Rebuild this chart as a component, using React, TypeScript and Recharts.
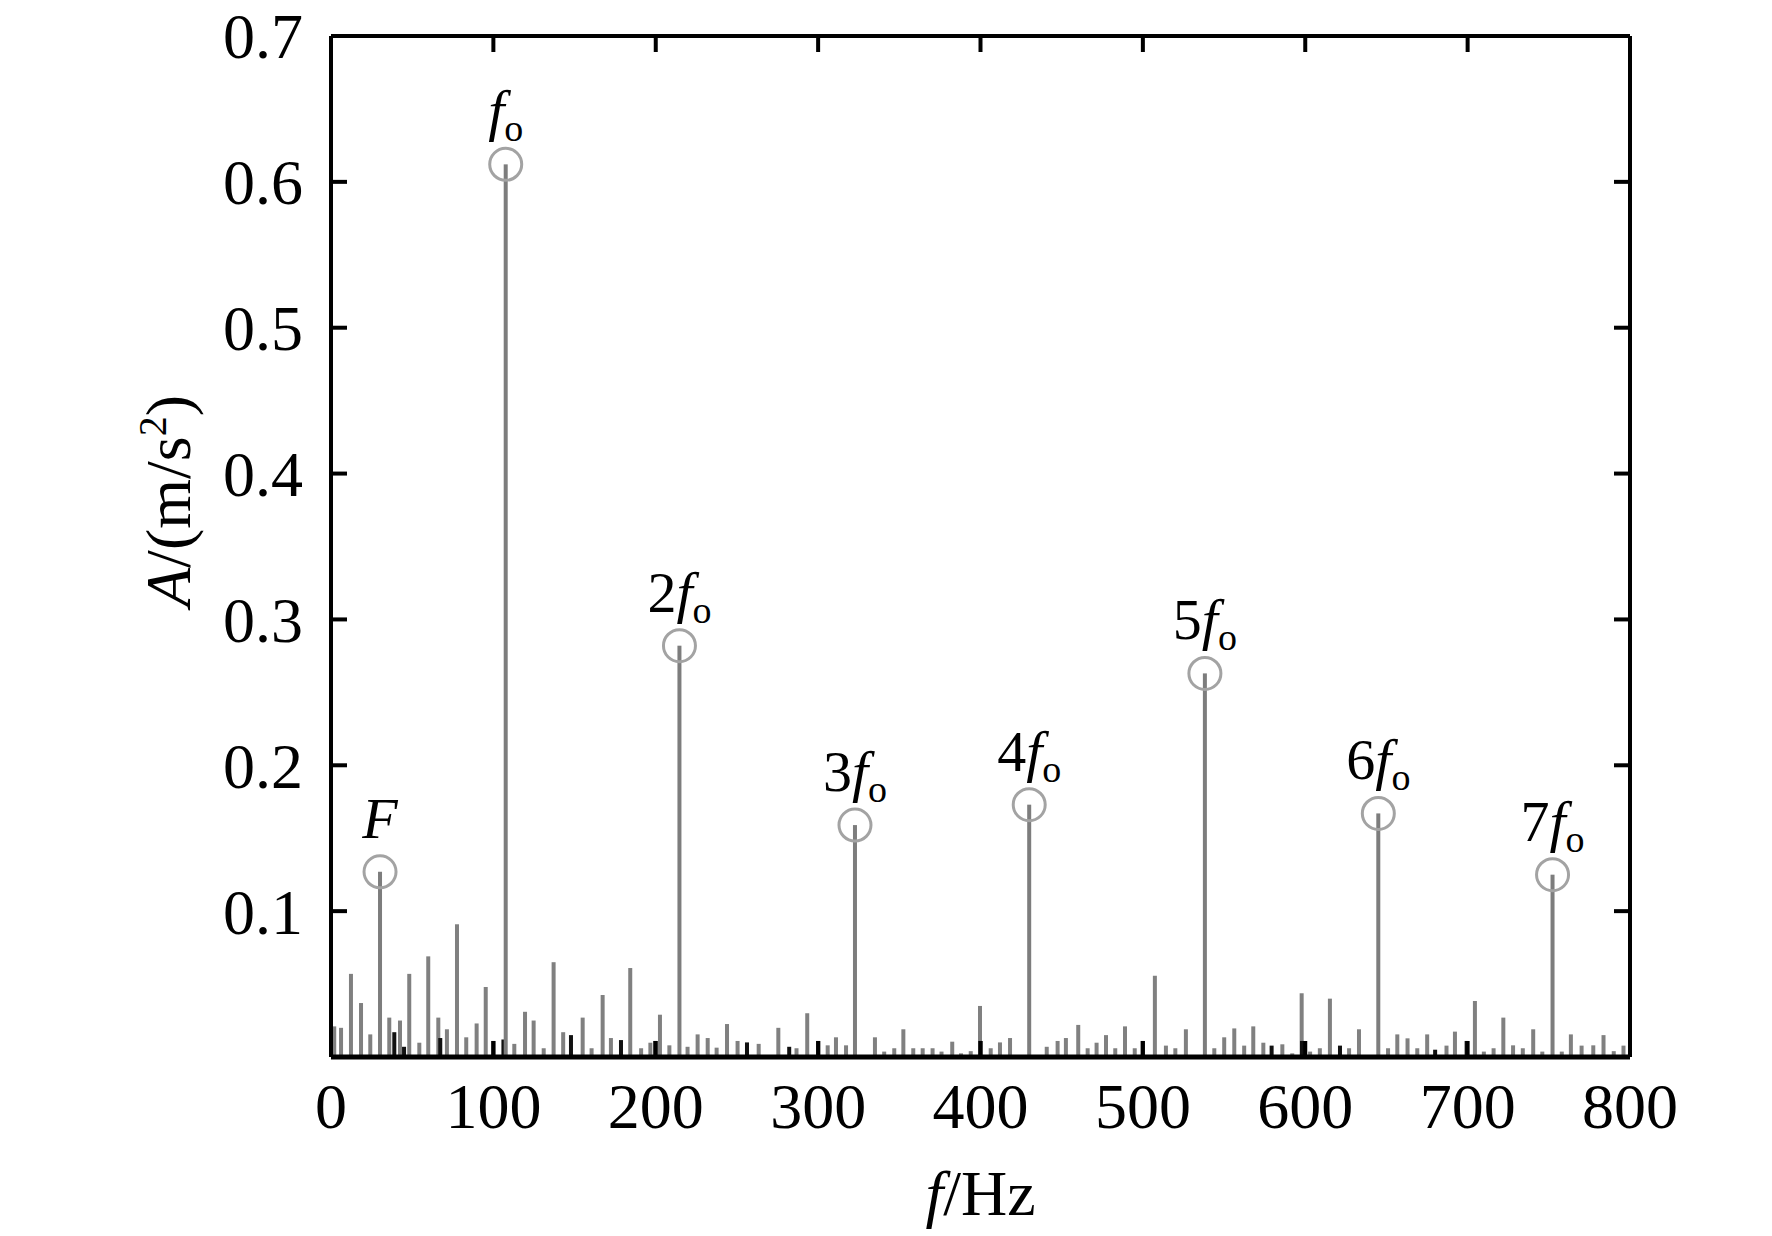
import React from "react";
import { ComposedChart, Bar, Scatter, XAxis, YAxis } from "recharts";

// spectrum: amplitude A (m/s^2) vs frequency f (Hz)
const harmonicFreq = [30.2, 107.6, 214.6, 322.7, 430, 538.2, 645, 752.3];
const harmonicAmp = [0.127, 0.612, 0.282, 0.159, 0.173, 0.263, 0.167, 0.125];
const harmonicLabels = ["F", "fo", "2fo", "3fo", "4fo", "5fo", "6fo", "7fo"];

const noiseFreq = [
    2, 6.2, 12.3, 18.5, 24.2, 35.9, 42.5, 48.2, 54.4, 59.9, 66.1, 71.4, 77.6, 83.3, 89.7, 95.3,
    112.9, 119.5, 124.8, 131, 137.1, 143, 155, 160.5, 167.3, 172.4, 184.3, 191, 196.7, 202.6, 208.4,
    219.6, 225.8, 232, 237.5, 243.9, 250.4, 263.4, 275.5, 286.7, 293.3, 305.9, 311, 317.2,
    335, 340.7, 346.9, 352.5, 358.6, 364.4, 370.5, 376, 382.6, 388, 394, 399.7, 406.3, 412, 418.2,
    440.8, 447.5, 452.6, 460.2, 466, 471.5, 477.3, 483, 489, 495, 507.4, 514.2, 520, 526.5,
    544, 550.1, 556.3, 562.4, 568, 574.2, 585.9, 592, 597.8, 603, 609, 615.2, 627, 633.1,
    651, 656.7, 663, 669, 675.1, 687, 692.2, 704.5, 710, 716, 722, 728, 734, 740.4, 746,
    758, 763.6, 770.2, 777.4, 783.7, 790, 796,
];
const noiseAmp = [
    0.021, 0.02, 0.057, 0.037, 0.0155, 0.027, 0.025, 0.057, 0.0098, 0.069, 0.027, 0.019, 0.091, 0.0135, 0.023, 0.048,
    0.009, 0.031, 0.025, 0.006, 0.065, 0.017, 0.027, 0.006, 0.0425, 0.013, 0.061, 0.006, 0.0098, 0.029, 0.008,
    0.007, 0.0155, 0.013, 0.0064, 0.0226, 0.011, 0.009, 0.02, 0.006, 0.03, 0.008, 0.0135, 0.008,
    0.0135, 0.0037, 0.006, 0.019, 0.006, 0.006, 0.006, 0.0037, 0.0105, 0.0025, 0.004, 0.035, 0.006, 0.01, 0.013,
    0.007, 0.011, 0.013, 0.022, 0.006, 0.0098, 0.015, 0.006, 0.021, 0.006, 0.0557, 0.0078, 0.006, 0.019,
    0.006, 0.0135, 0.0196, 0.0078, 0.021, 0.0098, 0.0087, 0.0025, 0.0437, 0.0037, 0.006, 0.04, 0.006, 0.019,
    0.006, 0.0155, 0.0128, 0.006, 0.0155, 0.0078, 0.0174, 0.0384, 0.0037, 0.006, 0.027, 0.008, 0.006, 0.019, 0.0037,
    0.0037, 0.0155, 0.0078, 0.008, 0.015, 0.004, 0.0078,
];

const darkFreq = [39, 45, 67.3, 100, 106.2, 147.8, 178.6, 199.7, 256.2, 282.2, 300.1, 400, 499.9, 579.3, 598, 621.4, 680, 699.4];
const darkAmp = [0.017, 0.007, 0.013, 0.011, 0.012, 0.015, 0.0116, 0.011, 0.01, 0.007, 0.011, 0.011, 0.011, 0.0078, 0.011, 0.0078, 0.005, 0.011];

const xTicks = [0, 100, 200, 300, 400, 500, 600, 700, 800];
const yTicks = [0.1, 0.2, 0.3, 0.4, 0.5, 0.6, 0.7];

const FONT = '"Liberation Serif", "Times New Roman", serif';
const TICK_LEN = 16;

// one row per spectral line; the other two series are 0 there so a shared stack keeps each bar on its own frequency
const rows = [
    ...noiseFreq.map((f, i) => ({ freq: f, noise: noiseAmp[i], dark: 0, harmonic: 0 })),
    ...darkFreq.map((f, i) => ({ freq: f, noise: 0, dark: darkAmp[i], harmonic: 0 })),
    ...harmonicFreq.map((f, i) => ({ freq: f, noise: 0, dark: 0, harmonic: harmonicAmp[i] })),
];

const harmonicRows = harmonicFreq.map((f, i) => ({ freq: f, amp: harmonicAmp[i], label: harmonicLabels[i] }));

const stem = (color: string, w: number) => (props: any) => {
    const { x, y, width, height } = props;
    if (!(height > 0.01)) return <g />;
    return <rect x={x + width / 2 - w / 2} y={y} width={w} height={height} fill={color} />;
};

const LeftTick = ({ x, y, payload }: any) => (
    <g>
        <line x1={x + 28} x2={x + 28 + TICK_LEN} y1={y} y2={y} stroke="#000" strokeWidth={4} />
        <text x={x} y={y} dy="0.35em" textAnchor="end" fontSize={64} fontFamily={FONT} fill="#000">
            {Number(payload.value).toFixed(1)}
        </text>
    </g>
);

const BottomTick = ({ x, y, payload }: any) => (
    <g>
        <line x1={x} x2={x} y1={y - 71} y2={y - 71 - TICK_LEN} stroke="#000" strokeWidth={4} />
        <text x={x} y={y} textAnchor="middle" fontSize={64} fontFamily={FONT} fill="#000">
            {payload.value}
        </text>
    </g>
);

const TopTick = ({ x, y }: any) => <line x1={x} x2={x} y1={y} y2={y + TICK_LEN} stroke="#000" strokeWidth={4} />;
const RightTick = ({ x, y }: any) => <line x1={x} x2={x - TICK_LEN} y1={y} y2={y} stroke="#000" strokeWidth={4} />;

const HarmonicLabel = ({ x, y, name }: { x: number; y: number; name: string }) => {
    if (name === "F") {
        return (
            <text x={x} y={y} textAnchor="middle" fontSize={58} fontFamily={FONT} fontStyle="italic">F</text>
        );
    }
    const prefix = name.replace("fo", "");
    return (
        <text x={x} y={y} textAnchor="middle" fontSize={58} fontFamily={FONT}>
            {prefix && <tspan>{prefix}</tspan>}
            <tspan fontStyle="italic">f</tspan>
            <tspan fontSize={38} dy={11}>o</tspan>
        </text>
    );
};

const HarmonicMark = (props: any) => {
    const { cx, cy, payload } = props;
    if (cx == null || cy == null) return <g />;
    return (
        <g>
            <circle cx={cx} cy={cy} r={16} fill="none" stroke="#a3a3a3" strokeWidth={3} />
            <HarmonicLabel x={cx} y={cy - 34} name={payload.label} />
        </g>
    );
};

const YTitle = ({ viewBox }: any) => {
    const cx = viewBox.x + 17;
    const cy = viewBox.y + 465;
    return (
        <text x={cx} y={cy} textAnchor="middle" dy="0.35em" transform={`rotate(-90, ${cx}, ${cy})`} fontSize={64} fontFamily={FONT}>
            <tspan fontStyle="italic">A</tspan>
            <tspan>/(m/s</tspan>
            <tspan fontSize={40} dy={-24}>2</tspan>
            <tspan dy={24}>)</tspan>
        </text>
    );
};

const XTitle = ({ viewBox }: any) => (
    <text x={viewBox.x + viewBox.width / 2} y={viewBox.y + 158} textAnchor="middle" fontSize={64} fontFamily={FONT}>
        <tspan fontStyle="italic">f</tspan>
        <tspan>/Hz</tspan>
    </text>
);

export default function App() {
    return (
        <div style={{ position: "absolute", left: 0, top: 0, width: 1772, height: 1236, background: "#fff" }}>
            <ComposedChart width={1772} height={1236} data={rows} margin={{ top: 35, right: 141, bottom: 79, left: 151 }}>
                <XAxis
                    xAxisId="main"
                    type="number"
                    dataKey="freq"
                    domain={[0, 800]}
                    ticks={xTicks}
                    allowDataOverflow
                    height={100}
                    tickSize={0}
                    tickMargin={71}
                    tickLine={false}
                    tick={<BottomTick />}
                    axisLine={{ stroke: "#000", strokeWidth: 5 }}
                    label={<XTitle />}
                />
                <XAxis
                    xAxisId="top"
                    orientation="top"
                    type="number"
                    dataKey="freq"
                    domain={[0, 800]}
                    ticks={xTicks}
                    allowDataOverflow
                    height={1}
                    tickSize={0}
                    tickMargin={0}
                    tickLine={false}
                    tick={<TopTick />}
                    axisLine={{ stroke: "#000", strokeWidth: 4 }}
                />
                <YAxis
                    type="number"
                    domain={[0, 0.7]}
                    ticks={yTicks}
                    allowDataOverflow
                    width={180}
                    tickSize={0}
                    tickMargin={28}
                    tickLine={false}
                    tick={<LeftTick />}
                    axisLine={{ stroke: "#000", strokeWidth: 4 }}
                    label={<YTitle />}
                />
                <YAxis
                    yAxisId="right"
                    orientation="right"
                    type="number"
                    domain={[0, 0.7]}
                    ticks={yTicks}
                    allowDataOverflow
                    width={1}
                    tickSize={0}
                    tickMargin={0}
                    tickLine={false}
                    tick={<RightTick />}
                    axisLine={{ stroke: "#000", strokeWidth: 4 }}
                />
                <Bar xAxisId="main" stackId="s" dataKey="noise" barSize={4} shape={stem("#808080", 4)} isAnimationActive={false} />
                <Bar xAxisId="main" stackId="s" dataKey="dark" barSize={4} shape={stem("#111111", 4)} isAnimationActive={false} />
                <Bar xAxisId="main" stackId="s" dataKey="harmonic" barSize={4} shape={stem("#7d7d7d", 4)} isAnimationActive={false} />
                <Scatter xAxisId="main" data={harmonicRows} dataKey="amp" shape={<HarmonicMark />} isAnimationActive={false} />
            </ComposedChart>
        </div>
    );
}
